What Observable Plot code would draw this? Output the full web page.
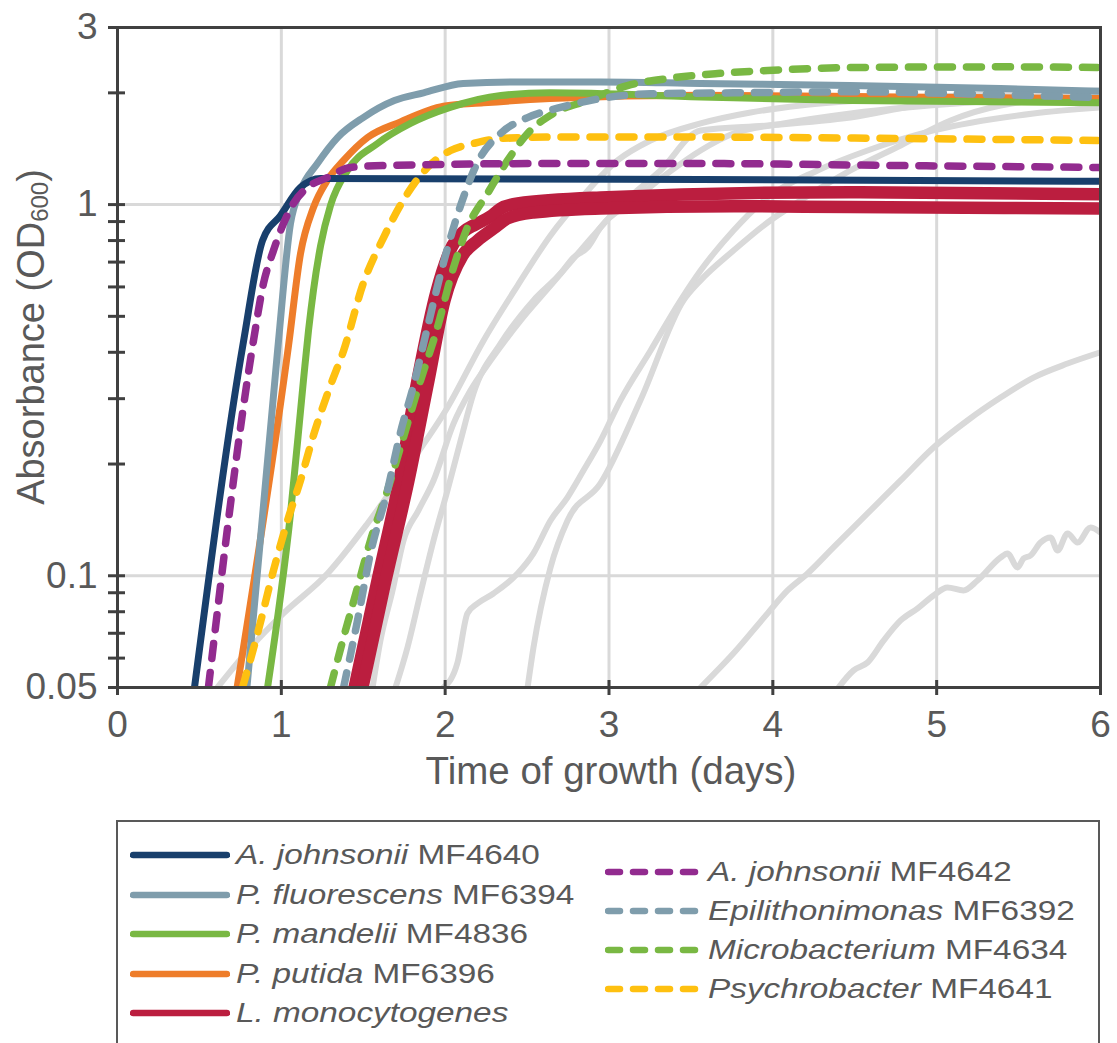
<!DOCTYPE html>
<html><head><meta charset="utf-8">
<script src="https://cdn.jsdelivr.net/npm/d3@7"></script>
<script src="https://cdn.jsdelivr.net/npm/@observablehq/plot@0.6"></script>
<style>
body{margin:0;background:#fff;font-family:"Liberation Sans",Arial,sans-serif;}
#wrap{position:relative;width:1117px;height:1043px;overflow:hidden;background:#fff;}
#wrap svg{display:block;}
#legendBox{position:absolute;left:116px;top:820px;width:984px;height:260px;border:2px solid #595959;box-sizing:border-box;}
.item{position:absolute;height:40px;line-height:40px;white-space:nowrap;color:#595959;font-size:28px;}
.item svg{position:absolute;left:0;top:14px;}
.item .txt{position:absolute;display:inline-block;transform:scaleX(1.19);transform-origin:0 50%;}
</style></head><body><div id="wrap"><div id="legendBox"></div></div>
<script>
// ---------- axis ticks ----------
const xTickValues = [0, 1, 2, 3, 4, 5, 6];
const xGridValues = [1, 2, 3, 4, 5];
const yTickValues = [3, 2, 1, 0.9, 0.8, 0.7, 0.6, 0.5, 0.4, 0.3, 0.2, 0.1, 0.09, 0.08, 0.07, 0.06, 0.05];
const yLabelValues = [3, 1, 0.1, 0.05];
const yGridValues = [0.1, 1];

// ---------- highlighted strains (day, OD600) ----------
const aj4640Day = [0.47, 0.77, 0.885, 0.995, 1.117, 1.24, 3.56, 6];
const aj4640OD  = [0.05, 0.43, 0.80, 0.935, 1.112, 1.176, 1.168, 1.155];

const pf6394Day = [0.79, 0.977, 1.056, 1.117, 1.22, 1.343, 1.50, 1.69, 1.868, 2.11, 2.44, 2.95, 3.56, 4.47, 5.39, 6];
const pf6394OD  = [0.05, 0.404, 0.889, 1.091, 1.29, 1.516, 1.716, 1.907, 2.0, 2.12, 2.14, 2.14, 2.12, 2.093, 2.055, 2.02];

const pm4836Day = [0.916, 1.056, 1.135, 1.166, 1.196, 1.24, 1.30, 1.404, 1.587, 1.788, 2.03, 2.34, 2.64, 3.56, 4.47, 6];
const pm4836OD  = [0.05, 0.147, 0.336, 0.458, 0.587, 0.776, 0.994, 1.236, 1.461, 1.654, 1.827, 1.967, 2.0, 1.95, 1.907, 1.88];

const pp6396Day = [0.73, 1.044, 1.117, 1.196, 1.28, 1.38, 1.526, 1.727, 1.99, 2.234, 2.64, 3.56, 4.78, 6];
const pp6396OD  = [0.05, 0.417, 0.738, 0.982, 1.161, 1.315, 1.516, 1.67, 1.84, 1.88, 1.93, 1.97, 1.95, 1.93];

const lmADay = [1.447, 1.587, 1.721, 1.831, 1.947, 2.045, 2.106, 2.185, 2.277, 2.338, 2.442, 2.948, 4.474, 6];
const lmAOD  = [0.05, 0.0971, 0.1806, 0.336, 0.583, 0.776, 0.841, 0.884, 0.929, 0.976, 1.007, 1.045, 1.08, 1.066];
const lmBDay = [1.495, 1.636, 1.776, 1.898, 1.996, 2.106, 2.197, 2.295, 2.381, 2.539, 2.948, 3.76, 4.474, 6];
const lmBOD  = [0.05, 0.0971, 0.1806, 0.336, 0.552, 0.729, 0.80, 0.862, 0.918, 0.952, 0.976, 0.99, 0.985, 0.976];

const aj4642Day = [0.555, 0.83, 0.891, 0.952, 1.013, 1.074, 1.16, 1.282, 1.422, 1.624, 2.643, 3.559, 4.78, 6];
const aj4642OD  = [0.05, 0.43, 0.613, 0.752, 0.889, 1.007, 1.112, 1.183, 1.259, 1.274, 1.29, 1.29, 1.274, 1.259];

const ep6392Day = [1.38, 1.465, 1.544, 1.648, 1.727, 1.807, 1.892, 1.99, 2.094, 2.197, 2.338, 2.503, 2.704, 2.948, 3.253, 3.76, 4.474, 5.39, 6];
const ep6392OD  = [0.05, 0.0758, 0.1149, 0.1698, 0.243, 0.3257, 0.467, 0.698, 0.994, 1.298, 1.554, 1.716, 1.827, 1.931, 1.988, 2.0, 2.013, 1.977, 1.943];

const mb4634Day = [1.30, 1.38, 1.465, 1.544, 1.648, 1.727, 1.831, 1.953, 2.051, 2.136, 2.258, 2.381, 2.503, 2.661, 2.869, 3.113, 3.357, 3.662, 3.968, 4.474, 5.39, 6];
const mb4634OD  = [0.05, 0.0682, 0.093, 0.1245, 0.1698, 0.2216, 0.316, 0.467, 0.677, 0.868, 1.071, 1.315, 1.554, 1.76, 1.907, 2.093, 2.186, 2.255, 2.298, 2.34, 2.35, 2.34];

const ps4641Day = [0.763, 0.855, 0.952, 1.038, 1.117, 1.196, 1.30, 1.38, 1.50, 1.624, 1.77, 1.892, 2.033, 2.173, 2.338, 2.643, 3.559, 4.78, 6];
const ps4641OD  = [0.05, 0.0699, 0.1033, 0.1409, 0.1806, 0.2388, 0.3257, 0.404, 0.613, 0.815, 1.071, 1.259, 1.399, 1.461, 1.507, 1.52, 1.52, 1.507, 1.488];

// ---------- other isolates (grey background curves) ----------
const gADay = [0.61, 0.812, 1.013, 1.282, 1.526, 1.77, 2.014, 2.234, 2.442, 2.643, 2.844, 3.052, 3.253, 3.559, 3.864, 4.169, 4.78, 6];
const gAOD  = [0.05, 0.0641, 0.0792, 0.1014, 0.1383, 0.196, 0.284, 0.43, 0.605, 0.826, 1.058, 1.315, 1.488, 1.654, 1.77, 1.849, 1.931, 2.029];
const gBDay = [1.697, 1.77, 1.849, 1.929, 2.014, 2.094, 2.173, 2.338, 2.539, 2.704, 2.783, 2.869, 2.948, 3.15, 3.357, 3.559, 3.76, 4.065, 4.474, 5.39, 6];
const gBOD  = [0.05, 0.0641, 0.0896, 0.1245, 0.1698, 0.231, 0.31, 0.422, 0.552, 0.652, 0.72, 0.766, 0.868, 1.026, 1.213, 1.399, 1.554, 1.654, 1.76, 1.907, 1.967];
const gCDay = [1.99, 2.075, 2.136, 2.197, 2.295, 2.442, 2.539, 2.643, 2.747, 2.844, 2.948, 3.07, 3.253, 3.437, 3.559, 3.76, 3.968, 4.273, 4.578, 4.981, 5.591, 6];
const gCOD  = [0.05, 0.0583, 0.0792, 0.0842, 0.0896, 0.1014, 0.1149, 0.1409, 0.1626, 0.192, 0.231, 0.297, 0.404, 0.552, 0.664, 0.852, 1.045, 1.236, 1.399, 1.584, 1.76, 1.827];
const gDDay = [2.503, 2.539, 2.643, 2.747, 2.948, 3.192, 3.455, 3.559, 3.76, 3.968, 4.169, 4.474, 4.78, 5.085, 5.39, 6];
const gDOD  = [0.05, 0.0641, 0.1053, 0.1409, 0.1773, 0.297, 0.552, 0.625, 0.752, 0.895, 1.026, 1.236, 1.443, 1.685, 1.849, 1.967];
const gEDay = [3.559, 3.76, 3.968, 4.09, 4.212, 4.37, 4.578, 4.78, 4.981, 5.188, 5.39, 5.591, 5.799, 6];
const gEOD  = [0.05, 0.0618, 0.0792, 0.0913, 0.1014, 0.1192, 0.1472, 0.1806, 0.2216, 0.262, 0.302, 0.342, 0.373, 0.40];
const gFDay = [4.401, 4.493, 4.578, 4.676, 4.78, 4.884, 4.981, 5.066, 5.164, 5.249, 5.39, 5.432, 5.494, 5.53, 5.573, 5.634, 5.695, 5.738, 5.799, 5.86, 5.939, 6];
const gFOD  = [0.05, 0.0556, 0.0584, 0.0669, 0.0758, 0.0817, 0.0885, 0.093, 0.0913, 0.0971, 0.112, 0.1149, 0.1053, 0.1113, 0.1134, 0.1229, 0.1268, 0.117, 0.13, 0.1229, 0.1349, 0.1308];
const gGDay = [1.557, 1.605, 1.679, 1.746, 1.837, 1.929, 2.051, 2.155, 2.277, 2.46, 2.643, 2.826, 3.07, 3.314, 3.559, 3.968, 4.474, 4.981, 6];
const gGOD  = [0.05, 0.0669, 0.0913, 0.1245, 0.15, 0.1806, 0.257, 0.316, 0.38, 0.487, 0.605, 0.752, 0.994, 1.236, 1.584, 1.633, 1.716, 1.873, 1.943];

// ---------- legend text ----------
const legendItalic = ["A. johnsonii", "P. fluorescens", "P. mandelii", "P. putida", "L. monocytogenes",
                      "A. johnsonii", "Epilithonimonas", "Microbacterium", "Psychrobacter"];
const legendPlain  = [" MF4640", " MF6394", " MF4836", " MF6396", "",
                      " MF4642", " MF6392", " MF4634", " MF4641"];

// ---------- build ----------
function rows(days, od) { return days.map((d, i) => ({day: d, od: od[i]})); }

const greyCurves = [rows(gADay,gAOD), rows(gBDay,gBOD), rows(gCDay,gCOD), rows(gDDay,gDOD),
                    rows(gEDay,gEOD), rows(gFDay,gFOD), rows(gGDay,gGOD)];

const C = {navy:"#183f6c", slate:"#7f9dac", green:"#79b843", orange:"#ee7d2a", red:"#bb1e3f",
           purple:"#922b8f", yellow:"#fec010", grey:"#d9d9d9", axis:"#404040", text:"#595959"};
const DASH = "15,14";

const strains = [
  {data: rows(lmADay, lmAOD), color: C.red, w: 12.5, dash: null},
  {data: rows(lmBDay, lmBOD), color: C.red, w: 12.5, dash: null},
  {data: rows(pp6396Day, pp6396OD), color: C.orange, w: 7, dash: null},
  {data: rows(pm4836Day, pm4836OD), color: C.green, w: 7, dash: null},
  {data: rows(pf6394Day, pf6394OD), color: C.slate, w: 7, dash: null},
  {data: rows(aj4640Day, aj4640OD), color: C.navy, w: 7, dash: null},
  {data: rows(ps4641Day, ps4641OD), color: C.yellow, w: 7.5, dash: DASH},
  {data: rows(mb4634Day, mb4634OD), color: C.green, w: 7.5, dash: DASH},
  {data: rows(ep6392Day, ep6392OD), color: C.slate, w: 7.5, dash: DASH},
  {data: rows(aj4642Day, aj4642OD), color: C.purple, w: 7.5, dash: DASH}
];

const marks = [
  Plot.gridX(xGridValues, {stroke: C.grey, strokeOpacity: 1, strokeWidth: 3}),
  Plot.gridY(yGridValues, {stroke: C.grey, strokeOpacity: 1, strokeWidth: 3}),
  ...greyCurves.map(d => Plot.line(d, {x: "day", y: "od", stroke: C.grey, strokeWidth: 6,
      curve: "monotone-x", strokeLinecap: "round", strokeLinejoin: "round", clip: true})),
  ...strains.map(s => Plot.line(s.data, {x: "day", y: "od", stroke: s.color, strokeWidth: s.w,
      strokeDasharray: s.dash, curve: "monotone-x", strokeLinecap: "round", strokeLinejoin: "round", clip: true})),
  Plot.frame({stroke: C.axis, strokeWidth: 3}),
  Plot.axisY(yTickValues, {tickSize: 17, dx: 8, fill: "none", stroke: C.axis, strokeWidth: 3, label: null}),
  Plot.axisX(xTickValues, {tickSize: 15, dy: -7, fill: "none", stroke: C.axis, strokeWidth: 3, label: null}),
  Plot.axisY(yLabelValues, {tickSize: 0, tickPadding: 20, fontSize: 37, fill: C.text, tickFormat: d => String(d), label: null}),
  Plot.axisX(xTickValues, {tickSize: 0, tickPadding: 23, fontSize: 37, fill: C.text, tickFormat: d => String(d), label: null})
];

const chart = Plot.plot({
  width: 1117, height: 815,
  marginLeft: 117, marginRight: 17, marginTop: 27, marginBottom: 128,
  x: {domain: [0, 6]},
  y: {type: "log", domain: [0.05, 3]},
  style: {fontFamily: "'Liberation Sans', Arial, sans-serif", background: "white", overflow: "visible"},
  marks
});
const wrap = document.getElementById("wrap");
wrap.insertBefore(chart, wrap.firstChild);

// axis titles
const svg = d3.select(chart);
svg.append("text").attr("x", 611).attr("y", 784).attr("text-anchor", "middle")
  .attr("fill", C.text).attr("font-size", 38.5).text("Time of growth (days)");
const yt = svg.append("text").attr("transform", "translate(44,337) rotate(-90)")
  .attr("text-anchor", "middle").attr("fill", C.text).attr("font-size", 38);
yt.append("tspan").text("Absorbance (OD");
yt.append("tspan").attr("font-size", 24).attr("dy", 4).text("600");
yt.append("tspan").attr("dy", -4).text(")");

// legend
const legendColors = [C.navy, C.slate, C.green, C.orange, C.red, C.purple, C.slate, C.green, C.yellow];
const legendDashed = [false, false, false, false, false, true, true, true, true];
const leftRowsY = [855, 894.5, 934, 973.5, 1013];
const rightRowsY = [872, 911, 950, 989];
legendItalic.forEach((it, i) => {
  const right = i >= 5;
  const cy = right ? rightRowsY[i - 5] : leftRowsY[i];
  const x0 = right ? 605 : 130;
  const div = document.createElement("div");
  div.className = "item";
  div.style.left = x0 + "px";
  div.style.top = (cy - 20) + "px";
  div.style.width = "480px";
  const lineLen = right ? 91 : 94;
  div.innerHTML = `<svg width="100" height="12"><line x1="3" y1="6" x2="${3 + lineLen}" y2="6" stroke="${legendColors[i]}" stroke-width="6.5" stroke-linecap="round" ${legendDashed[i] ? 'stroke-dasharray="12,13"' : ''}/></svg>`;
  const span = document.createElement("span");
  span.className = "txt";
  span.style.left = (right ? 103 : 106) + "px";
  span.innerHTML = `<i>${it}</i>${legendPlain[i]}`;
  div.appendChild(span);
  wrap.appendChild(div);
});
</script></body></html>
